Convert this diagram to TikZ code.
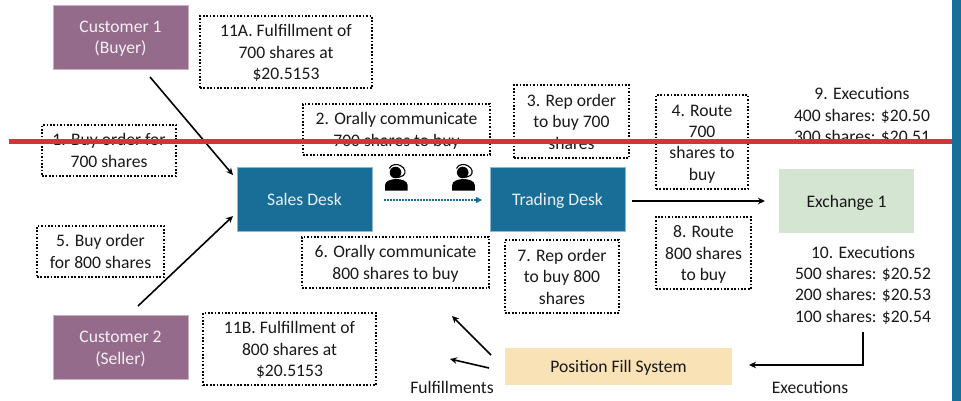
\documentclass[tikz,border=0pt]{standalone}
\usepackage{fontspec}
\setmainfont{Carlito}
\usetikzlibrary{arrows.meta}
\definecolor{cust}{HTML}{956B8B}
\definecolor{custb}{HTML}{C9B0C4}
\definecolor{desk}{HTML}{186E96}
\definecolor{deskb}{HTML}{8DB9CF}
\definecolor{exch}{HTML}{D4E5D2}
\definecolor{fillsys}{HTML}{F8E2B6}
\definecolor{redline}{HTML}{D2343A}
\tikzset{
  x=1pt,y=-1pt,
  every node/.style={font=\fontsize{17.6}{21.4}\selectfont,inner sep=0pt,outer sep=0pt,text=black!90},
  cust box/.style={fill=cust,draw=custb,line width=.6pt,text=white!90!cust,minimum width=135pt,minimum height=64pt},
  desk box/.style={fill=desk,draw=deskb,line width=.6pt,text=white!90!desk,minimum width=135pt,minimum height=64pt},
  note/.style={draw=black,line width=1.7pt,dash pattern=on 1.7pt off 1.7pt},
  conn/.style={draw=black,line width=1.6pt,-{Stealth[length=7pt,width=6.5pt]}},
  talk/.style={draw=desk,line width=1.6pt,dash pattern=on 1.7pt off 1.3pt,-{Stealth[length=6pt,width=6pt,inset=0pt]}},
}
% centred lines of text with a uniform vertical position in their node
\newcommand{\tl}[1]{\vbox{\kern3.8pt\hbox{\begin{tabular}{@{}c@{}}#1\end{tabular}}}}
% note box given by corners: name, left, top, right, bottom, text
\newcommand{\notebox}[6]{%
  \node[note,minimum width=#4-#2,minimum height=#5-#3] (#1) at ({(#2+#4)/2},{(#3+#5)/2}) {\tl{#6}};}
% agent icon: centre x, top y
\newcommand{\agent}[2]{%
  \fill[black] (#1-11.3,#2+26.5) -- (#1-11.3,#2+21) .. controls (#1-11.3,#2+17) and (#1-5,#2+15) .. (#1,#2+15)
     .. controls (#1+5,#2+15) and (#1+11.3,#2+17) .. (#1+11.3,#2+21) -- (#1+11.3,#2+26.5) -- cycle;
  \fill[black] (#1-0.8,#2+8.5) circle (5.8pt);
  \draw[black,line width=1.1pt] (#1-7,#2+4.5) .. controls (#1-5,#2-0.3) and (#1+1,#2+0) .. (#1+4,#2+1.5)
     .. controls (#1+9,#2+4) and (#1+10,#2+9) .. (#1+7,#2+11.5) -- (#1+2,#2+13.5);
}
\begin{document}
\begin{tikzpicture}
\useasboundingbox (0,0) rectangle (961,401);
\fill[white] (0,0) rectangle (961,401);

\node[cust box] (c1) at (120.5,37) {\tl{Customer 1\\(Buyer)}};
\node[cust box] (c2) at (120.5,347.5) {\tl{Customer 2\\(Seller)}};
\node[desk box] (sales) at (304.5,199.5) {\tl{Sales Desk}};
\node[desk box] (trading) at (557.5,199.5) {\tl{Trading Desk}};
\node[fill=exch,minimum width=135pt,minimum height=64pt] (ex) at (846.5,201) {\tl{Exchange 1}};
\node[fill=fillsys,minimum width=227pt,minimum height=37pt] (pfs) at (618.5,366) {\tl{Position Fill System}};

\notebox{n11a}{200}{16}{372}{88}{11A. Fulfillment of\\700 shares at\\\$20.5153}
\notebox{n2}{303}{104}{490}{155}{2. Orally communicate\\700 shares to buy}
\notebox{n1}{42}{125}{176}{176}{1. Buy order for\\700 shares}
\notebox{n5}{37}{226}{164}{277}{5. Buy order\\for 800 shares}
\notebox{n3}{514}{85}{629}{158}{3. Rep order\\to buy 700\\shares}
\notebox{n4}{656}{95}{748}{189}{4. Route\\700\\shares to\\buy}
\notebox{n8}{656}{217}{751}{289}{8. Route\\800 shares\\to buy}
\notebox{n7}{505}{240}{619}{313}{7. Rep order\\to buy 800\\shares}
\notebox{n6}{302}{237}{489}{288}{6. Orally communicate\\800 shares to buy}
\notebox{n11b}{203}{313}{376}{385}{11B. Fulfillment of\\800 shares at\\\$20.5153}

\node (e9) at (862,115) {\tl{9. Executions\\400 shares: \$20.50\\300 shares: \$20.51}};
\node (e10) at (863,284) {\tl{10. Executions\\500 shares: \$20.52\\200 shares: \$20.53\\100 shares: \$20.54}};
\node (lex) at (810,387) {\tl{Executions}};
\node (lfu) at (452,387) {\tl{Fulfillments}};

\coordinate (c1out) at (150,77);
\coordinate (s1in) at (233,175);
\coordinate (c2out) at (138,306);
\coordinate (s2in) at (233,216);
\coordinate (tout) at (632,201);
\coordinate (exin) at (765,201);
\coordinate (tk1) at (384,200);
\coordinate (tk2) at (482,200);
\coordinate (e10out) at (863,332);
\coordinate (pfsin) at (749,365);
\coordinate (f1a) at (491,355);
\coordinate (f1b) at (452,316);
\coordinate (f2a) at (489,368);
\coordinate (f2b) at (450,359);

\draw[conn] (c1out) -- (s1in);
\draw[conn] (c2out) -- (s2in);
\draw[conn] (tout) -- (exin);
\draw[talk] (tk1) -- (tk2);
\draw[conn,line join=miter] (e10out) |- (pfsin);
\draw[conn] (f1a) -- (f1b);
\draw[conn] (f2a) -- (f2b);

\agent{396.3}{164}
\agent{463.5}{164}

\fill[redline] (9,139.5) rectangle (952,144.5);
\fill[desk] (952,0) rectangle (961,401);
\end{tikzpicture}
\end{document}
